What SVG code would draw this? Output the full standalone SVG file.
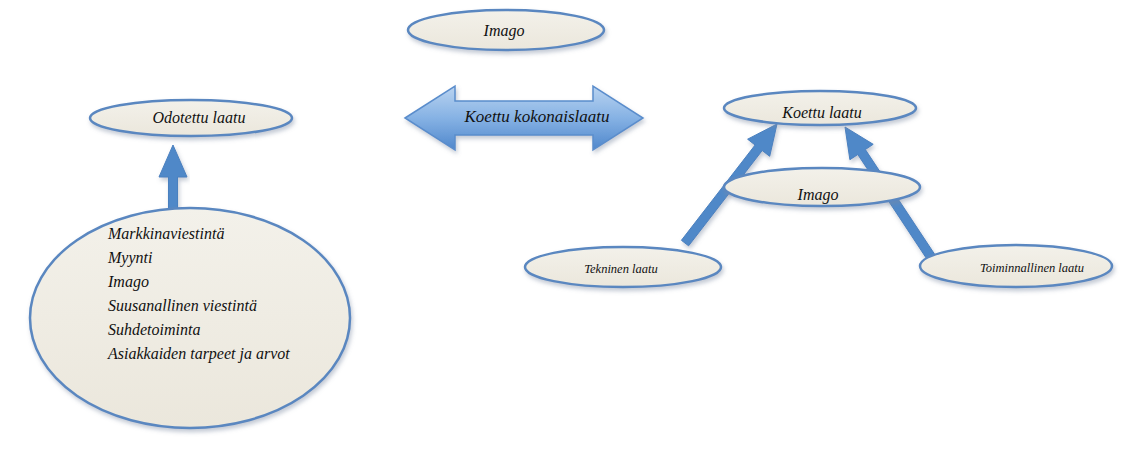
<svg xmlns="http://www.w3.org/2000/svg" width="1124" height="449" viewBox="0 0 1124 449">
  <style>
    .node { fill: url(#cream); stroke: #5a87c0; stroke-width: 2.5; filter: url(#shadow); }
    .lbl { font-family: "Liberation Serif", "DejaVu Serif", serif; font-style: italic; fill: #111; }
    .arrow { fill: #4f88c8; stroke: #4a80bf; stroke-width: 1; filter: url(#shadow); }
  </style>
  <defs>
    <linearGradient id="cream" x1="0" y1="0" x2="0" y2="1">
      <stop offset="0" stop-color="#f3f1ea"/>
      <stop offset="1" stop-color="#ebe7dc"/>
    </linearGradient>
    <linearGradient id="bluegrad" x1="0" y1="0" x2="0" y2="1">
      <stop offset="0" stop-color="#b9d3f0"/>
      <stop offset="0.5" stop-color="#86b2e4"/>
      <stop offset="1" stop-color="#4f87cc"/>
    </linearGradient>
    <filter id="shadow" x="-10%" y="-20%" width="120%" height="150%">
      <feDropShadow dx="1.5" dy="3" stdDeviation="2" flood-color="#7a8aa0" flood-opacity="0.45"/>
    </filter>
  </defs>

  <rect width="1124" height="449" fill="#ffffff"/>

  <!-- connectors -->
  <g id="connectors">
    <polygon class="arrow" points="168.5,209 168.5,177 159,177 173,145 187,177 177.5,177 177.5,209"/>
    <polygon class="arrow" points="681.4,240.3 755.1,145.0 747.6,139.2 777,124 769.7,156.3 762.2,150.5 688.6,245.8"/>
    <polygon class="arrow" points="927.2,259.5 857.8,154.5 849.9,159.7 845,127 873.2,144.3 865.3,149.5 934.8,254.5"/>
  </g>

  <!-- top Imago -->
  <g id="imago-top">
    <ellipse class="node" cx="506" cy="30" rx="98" ry="20"/>
    <text class="lbl" font-family="Liberation Serif, DejaVu Serif, serif" x="504" y="36" font-size="16" text-anchor="middle">Imago</text>
  </g>

  <!-- double-headed arrow -->
  <g id="koettu-kokonaislaatu">
    <path d="M405,118 L455,86 L455,101 L593,101 L593,86 L643,118 L593,150 L593,135 L455,135 L455,150 Z" fill="url(#bluegrad)" stroke="#5a8dcc" stroke-width="1.5" filter="url(#shadow)"/>
    <text class="lbl" font-family="Liberation Serif, DejaVu Serif, serif" x="537" y="122" font-size="17" text-anchor="middle">Koettu kokonaislaatu</text>
  </g>

  <g id="odotettu-laatu">
    <ellipse class="node" cx="191" cy="118" rx="101" ry="18"/>
    <text class="lbl" font-family="Liberation Serif, DejaVu Serif, serif" x="199" y="123" font-size="16" text-anchor="middle">Odotettu laatu</text>
  </g>

  <g id="tekijat">
    <ellipse class="node" cx="190" cy="318" rx="160" ry="110"/>
    <text class="lbl" font-family="Liberation Serif, DejaVu Serif, serif" font-size="16">
      <tspan x="108" y="239">Markkinaviestintä</tspan>
      <tspan x="108" y="263">Myynti</tspan>
      <tspan x="108" y="287">Imago</tspan>
      <tspan x="108" y="311">Suusanallinen viestintä</tspan>
      <tspan x="108" y="335">Suhdetoiminta</tspan>
      <tspan x="108" y="359">Asiakkaiden tarpeet ja arvot</tspan>
    </text>
  </g>

  <g id="koettu-laatu">
    <ellipse class="node" cx="820" cy="108" rx="96" ry="17"/>
    <text class="lbl" font-family="Liberation Serif, DejaVu Serif, serif" x="822" y="118" font-size="16" text-anchor="middle">Koettu laatu</text>
  </g>

  <g id="imago-right">
    <ellipse class="node" cx="822" cy="187" rx="98" ry="19"/>
    <text class="lbl" font-family="Liberation Serif, DejaVu Serif, serif" x="818" y="200" font-size="16" text-anchor="middle">Imago</text>
  </g>

  <g id="tekninen-laatu">
    <ellipse class="node" cx="623" cy="267" rx="98" ry="20"/>
    <text class="lbl" font-family="Liberation Serif, DejaVu Serif, serif" x="621" y="273" font-size="12.5" text-anchor="middle">Tekninen laatu</text>
  </g>

  <g id="toiminnallinen-laatu">
    <ellipse class="node" cx="1016" cy="266" rx="96" ry="21"/>
    <text class="lbl" font-family="Liberation Serif, DejaVu Serif, serif" x="1032" y="272" font-size="12.5" text-anchor="middle">Toiminnallinen laatu</text>
  </g>
</svg>
